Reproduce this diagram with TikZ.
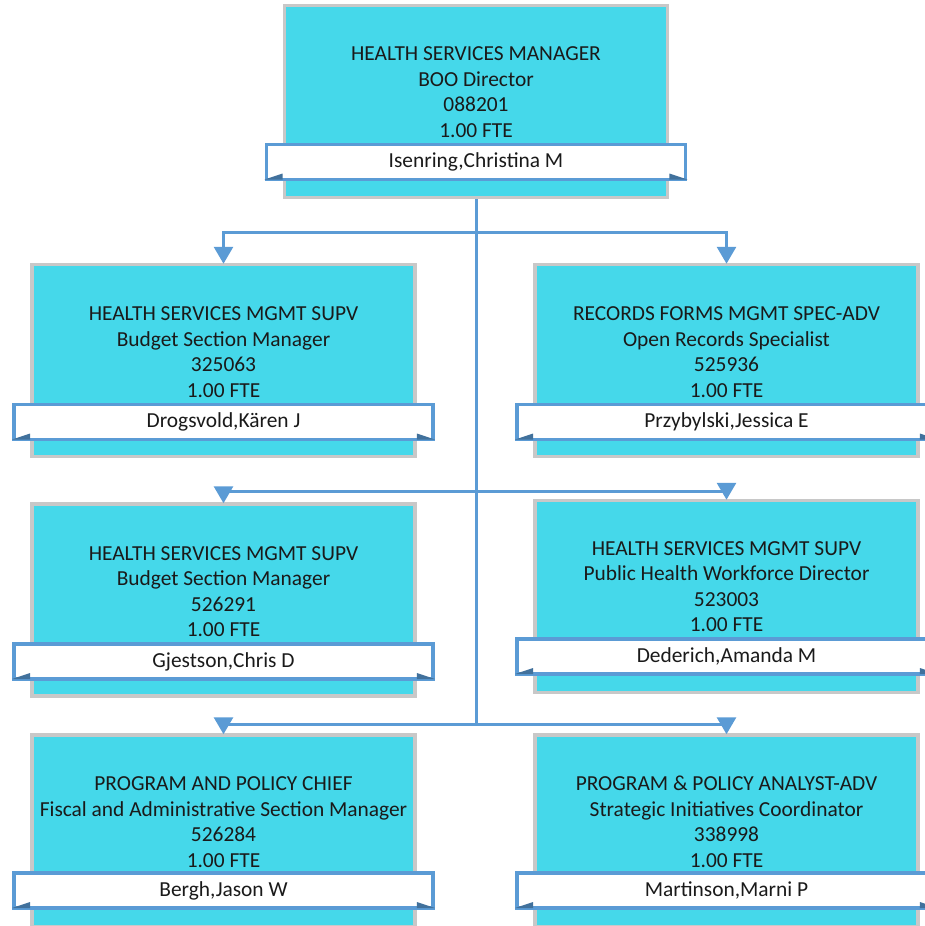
\documentclass[tikz,border=0pt]{standalone}
\usepackage{fontspec}
\setmainfont{Carlito}
\usetikzlibrary{arrows.meta}
\definecolor{cyanfill}{HTML}{45D8EA}
\definecolor{grayedge}{HTML}{C8C8C8}
\definecolor{blueline}{HTML}{5B9BD5}
\definecolor{darkblue}{HTML}{41719C}
\definecolor{txt}{HTML}{1A1A1A}
\tikzset{
  posbox/.style={draw=grayedge, line width=3.5pt, fill=cyanfill, minimum width=383pt, minimum height=192pt, inner sep=0pt},
  titletext/.style={align=center, text=txt, font=\fontsize{21.4}{25.5}\selectfont, inner sep=0pt},
  banner/.style={draw=blueline, line width=3.8pt, fill=white, minimum width=419pt, minimum height=35pt, inner sep=0pt, text=txt, font=\fontsize{21.4}{25.5}\selectfont},
  conn/.style={draw=blueline, line width=3pt},
  arr/.style={conn, -{Triangle[length=17pt, width=19pt]}, shorten >=-1pt}
}
\newcommand{\tails}[1]{%
  \fill[darkblue] ([yshift=1.9pt]#1.south west) -- ++(18pt,0) -- ++(0,6pt) -- cycle;
  \fill[darkblue] ([yshift=1.9pt]#1.south east) -- ++(-18pt,0) -- ++(0,6pt) -- cycle;
}
\begin{document}
\begin{tikzpicture}[x=1pt,y=-1pt]
\useasboundingbox (0,0) rectangle (924,926);
% boxes
\node[posbox] (top) at (476,101.5) {};
\node[posbox] (b1l) at (223.5,360.5) {};
\node[posbox] (b1r) at (726.5,360.5) {};
\node[posbox] (b2l) at (223.5,600) {};
\node[posbox] (b2r) at (726.5,596.5) {};
\node[posbox] (b3l) at (223.5,831) {};
\node[posbox] (b3r) at (726.5,831) {};
% titles
\node[titletext] (ttop) at (476,92) {HEALTH SERVICES MANAGER\\BOO Director\\088201\\1.00 FTE};
\node[titletext] (t1l) at (223.5,352) {HEALTH SERVICES MGMT SUPV\\Budget Section Manager\\325063\\1.00 FTE};
\node[titletext] (t1r) at (726.5,352) {RECORDS FORMS MGMT SPEC-ADV\\Open Records Specialist\\525936\\1.00 FTE};
\node[titletext] (t2l) at (223.5,591.5) {HEALTH SERVICES MGMT SUPV\\Budget Section Manager\\526291\\1.00 FTE};
\node[titletext] (t2r) at (726.5,586.5) {HEALTH SERVICES MGMT SUPV\\Public Health Workforce Director\\523003\\1.00 FTE};
\node[titletext] (t3l) at (223.5,822) {PROGRAM AND POLICY CHIEF\\Fiscal and Administrative Section Manager\\526284\\1.00 FTE};
\node[titletext] (t3r) at (726.5,822) {PROGRAM \& POLICY ANALYST-ADV\\Strategic Initiatives Coordinator\\338998\\1.00 FTE};
% banners
\node[banner] (ntop) at (476,162) {Isenring,Christina M};
\node[banner] (n1l) at (223.5,422) {Drogsvold,Kären J};
\node[banner] (n1r) at (726.5,422) {Przybylski,Jessica E};
\node[banner] (n2l) at (223.5,661.5) {Gjestson,Chris D};
\node[banner] (n2r) at (726.5,656.5) {Dederich,Amanda M};
\node[banner] (n3l) at (223.5,890.5) {Bergh,Jason W};
\node[banner] (n3r) at (726.5,890.5) {Martinson,Marni P};
\tails{ntop}\tails{n1l}\tails{n1r}\tails{n2l}\tails{n2r}\tails{n3l}\tails{n3r}
% connectors
\coordinate (j1) at (476,232);
\coordinate (j2) at (476,491);
\coordinate (j3) at (476,724);
\draw[conn] (top.south) -- (j3);
\draw[arr] (j1) -| (b1l.north);
\draw[arr] (j1) -| (b1r.north);
\draw[arr] (j2) -| (b2l.north);
\draw[arr] (j2) -| (b2r.north);
\draw[arr] (j3) -| (b3l.north);
\draw[arr] (j3) -| (b3r.north);
\end{tikzpicture}
\end{document}
